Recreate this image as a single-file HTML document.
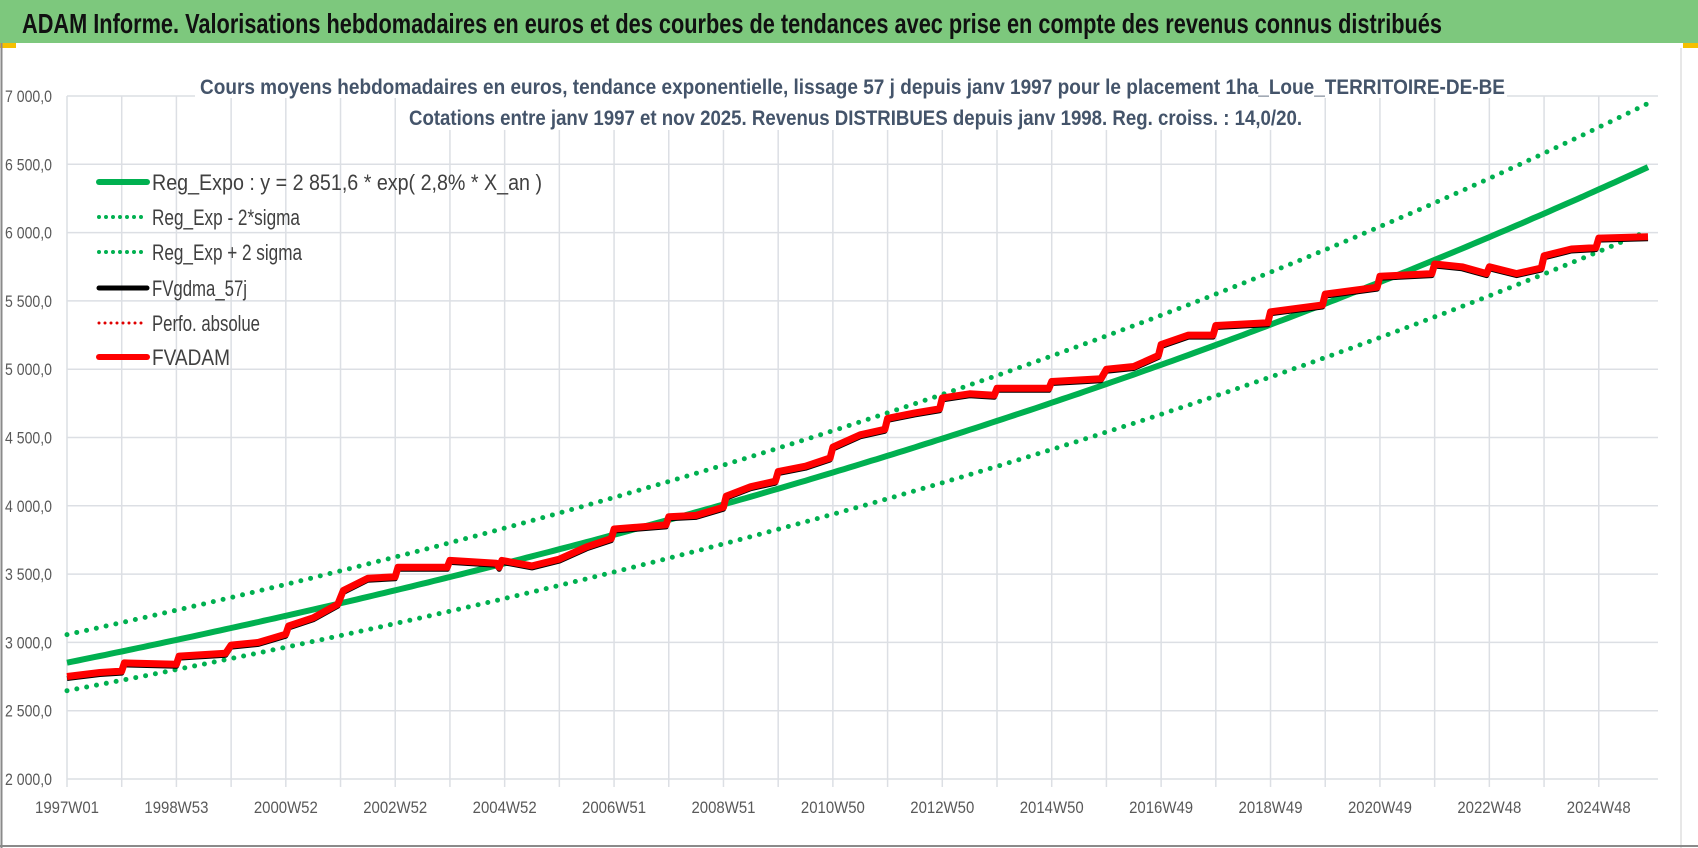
<!DOCTYPE html>
<html><head><meta charset="utf-8">
<style>
html,body{margin:0;padding:0;background:#fff;}
svg{display:block;font-family:"Liberation Sans",sans-serif;}
</style></head>
<body>
<svg id="chart" width="1698" height="848" viewBox="0 0 1698 848">
  <rect x="0" y="0" width="1698" height="848" fill="#fff"/>
  <rect x="0" y="0" width="1698" height="43" fill="#7dc87d"/>
  <rect x="0" y="43" width="16" height="5" fill="#f5c000"/>
  <rect x="1683" y="43" width="15" height="5" fill="#f5c000"/>
  <line x1="1.5" y1="43" x2="1.5" y2="848" stroke="#8a8a8a" stroke-width="2"/>
  <line x1="1681" y1="48" x2="1681" y2="848" stroke="#cfcfcf" stroke-width="1"/>
  <line x1="0" y1="846" x2="1698" y2="846" stroke="#8a8a8a" stroke-width="2"/>
  <text x="22" y="33" font-size="28" font-weight="bold" fill="#111" textLength="1420" lengthAdjust="spacingAndGlyphs">ADAM Informe. Valorisations hebdomadaires en euros et des courbes de tendances avec prise en compte des revenus connus distribués</text>
  <g id="grid"></g>
  <g id="yaxis"></g>
  <g id="xaxis"></g>
  <rect x="195" y="66" width="1312" height="32" fill="#fff"/>
  <rect x="400" y="98" width="905" height="32" fill="#fff"/>
  <text x="200" y="94" font-size="21" font-weight="bold" fill="#44546a" textLength="1305" lengthAdjust="spacingAndGlyphs">Cours moyens hebdomadaires en euros, tendance exponentielle, lissage 57 j depuis janv 1997 pour le placement 1ha_Loue_TERRITOIRE-DE-BE</text>
  <text x="409" y="125" font-size="21" font-weight="bold" fill="#44546a" textLength="893" lengthAdjust="spacingAndGlyphs">Cotations entre janv 1997 et nov 2025. Revenus DISTRIBUES depuis janv 1998. Reg. croiss. : 14,0/20.</text>
  <g id="series"></g>
  <g id="legend"></g>
</svg>
<script>
const yTicks = [2000, 2500, 3000, 3500, 4000, 4500, 5000, 5500, 6000, 6500, 7000];
const xTickLabels = ["1997W01","1998W53","2000W52","2002W52","2004W52","2006W51","2008W51","2010W50","2012W50","2014W50","2016W49","2018W49","2020W49","2022W48","2024W48"];
const xTickYears = [1997,1999,2001,2003,2005,2007,2009,2011,2013,2015,2017,2019,2021,2023,2025];
const regA = 2851.6;
const regRate = 0.0284;
const sigmaFactor = 0.072;
const fvYears = [1997.0,1997.6,1998.0,1998.05,1999.0,1999.05,1999.9,2000.0,2000.5,2001.0,2001.05,2001.5,2001.95,2002.05,2002.5,2003.0,2003.05,2003.95,2004.0,2004.85,2004.9,2004.95,2005.5,2006.0,2006.5,2006.95,2007.0,2007.95,2008.0,2008.5,2009.0,2009.05,2009.5,2009.95,2010.0,2010.5,2010.95,2011.0,2011.5,2011.95,2012.0,2012.5,2012.95,2013.0,2013.5,2013.95,2014.0,2014.95,2015.0,2015.9,2016.0,2016.5,2016.95,2017.0,2017.5,2017.95,2018.0,2018.95,2019.0,2019.95,2020.0,2020.95,2021.0,2021.95,2022.0,2022.5,2022.95,2023.0,2023.5,2023.95,2024.0,2024.5,2024.95,2025.0,2025.9];
const fvValues = [2750,2780,2790,2850,2840,2900,2920,2980,3000,3060,3120,3180,3280,3380,3470,3480,3550,3550,3600,3580,3550,3600,3560,3610,3700,3760,3830,3860,3920,3930,3990,4070,4140,4180,4250,4290,4350,4430,4520,4560,4640,4680,4710,4790,4820,4810,4860,4860,4910,4930,5000,5020,5100,5180,5250,5250,5320,5340,5420,5470,5550,5600,5680,5700,5770,5750,5700,5750,5700,5740,5830,5880,5890,5960,5970];

const X0 = 67, X1 = 1648, T0 = 1997.0, T1 = 2025.9;
const Y0 = 779, Y1 = 96, V0 = 2000, V1 = 7000;
function xs(t){ return X0 + (t - T0) / (T1 - T0) * (X1 - X0); }
function ys(v){ return Y0 - (v - V0) / (V1 - V0) * (Y0 - Y1); }
const NS = "http://www.w3.org/2000/svg";
function mk(tag, attrs, parent){ const e = document.createElementNS(NS, tag); for (const k in attrs) e.setAttribute(k, attrs[k]); parent.appendChild(e); return e; }

const grid = document.getElementById('grid');
for (const v of yTicks){
  const l = mk('line', {x1: X0, x2: X1 + 10, y1: ys(v), y2: ys(v), stroke: '#dcdfe4', 'stroke-width': 1.5}, grid);
  
  
}
for (let yr = 1997; yr <= 2025; yr++){
  const l = mk('line', {x1: xs(yr), x2: xs(yr), y1: Y1, y2: Y0 + 8, stroke: '#dcdfe4', 'stroke-width': 1.5}, grid);
  
  
}
const yaxis = document.getElementById('yaxis');
for (const v of yTicks){
  const s = v.toString();
  const txt = s.slice(0, s.length - 3) + ' ' + s.slice(-3) + ',0';
  const t = mk('text', {x: 5, y: ys(v) + 6, 'font-size': 17, fill: '#595959', textLength: 47, lengthAdjust: 'spacingAndGlyphs'}, yaxis);
  t.textContent = txt;
  
  
}
const xaxis = document.getElementById('xaxis');
xTickLabels.forEach((lab, i) => {
  const t = mk('text', {x: xs(xTickYears[i] - 0), y: 813, 'font-size': 17, fill: '#595959', 'text-anchor': 'middle', textLength: 64, lengthAdjust: 'spacingAndGlyphs'}, xaxis);
  t.setAttribute('x', xs(1997 + 2 * i));
  t.textContent = lab;
  
  
});

const series = document.getElementById('series');
function regPts(f){
  const p = [];
  for (let t = T0; t <= T1 + 0.001; t += 0.1){
    p.push(xs(t).toFixed(1) + ',' + ys(regA * Math.exp(regRate * (t - T0)) * f).toFixed(1));
  }
  return p.join(' ');
}
const up = mk('polyline', {points: regPts(1 + sigmaFactor), fill: 'none', stroke: '#00b050', 'stroke-width': 5, 'stroke-dasharray': '0 10', 'stroke-linecap': 'round'}, series);


const lo = mk('polyline', {points: regPts(1 - sigmaFactor), fill: 'none', stroke: '#00b050', 'stroke-width': 5, 'stroke-dasharray': '0 10', 'stroke-linecap': 'round'}, series);


const reg = mk('polyline', {points: regPts(1), fill: 'none', stroke: '#00b050', 'stroke-width': 6}, series);


const fvPts = fvYears.map((t, i) => xs(t).toFixed(1) + ',' + ys(fvValues[i]).toFixed(1));
const blk = mk('polyline', {points: fvYears.map((t, i) => xs(t).toFixed(1) + ',' + (ys(fvValues[i]) + 2).toFixed(1)).join(' '), fill: 'none', stroke: '#000', 'stroke-width': 5, 'stroke-linejoin': 'round'}, series);


const red = mk('polyline', {points: fvPts.join(' '), fill: 'none', stroke: '#ff0000', 'stroke-width': 7, 'stroke-linejoin': 'round'}, series);



const legend = document.getElementById('legend');
const legItems = [
  ["Reg_Expo : y = 2 851,6 * exp( 2,8% *  X_an )", '#00b050', 6, null, 'legend-reg-expo', 390],
  ["Reg_Exp - 2*sigma", '#00b050', 4, '0 7', 'legend-reg-minus', 148],
  ["Reg_Exp + 2 sigma", '#00b050', 4, '0 7', 'legend-reg-plus', 150],
  ["FVgdma_57j", '#000', 5, null, 'legend-fvgdma', 95],
  ["Perfo. absolue", '#e00000', 3, '0 6', 'legend-perfo', 108],
  ["FVADAM", '#ff0000', 6, null, 'legend-fvadam', 78]
];
const legY = [182, 217, 252, 288, 323, 357];
legItems.forEach((it, i) => {
  const g = mk('g', {}, legend);
  
  
  const a = {x1: 99, x2: 147, y1: legY[i], y2: legY[i], stroke: it[1], 'stroke-width': it[2], 'stroke-linecap': 'round'};
  if (it[3]) a['stroke-dasharray'] = it[3];
  const l = mk('line', a, g);
  
  
  const t = mk('text', {x: 152, y: legY[i] + 8, 'font-size': 22, fill: '#404040', textLength: it[5], lengthAdjust: 'spacingAndGlyphs'}, g);
  t.textContent = it[0];
  
  
});
</script>
</body></html>
